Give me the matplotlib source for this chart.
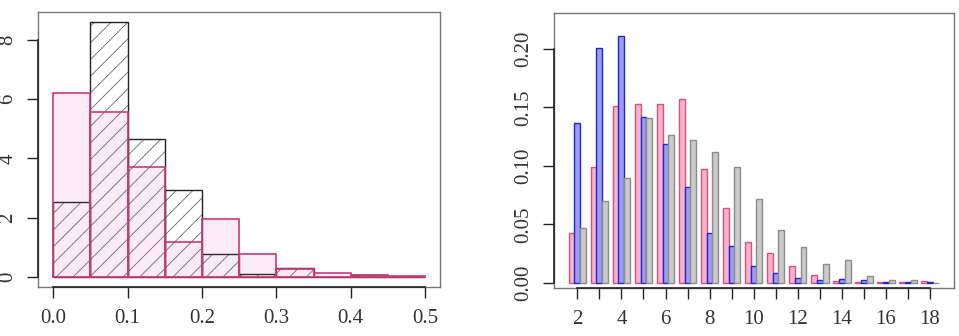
import matplotlib.pyplot as plt
import numpy as np

# left panel: two density histograms on the same bins
bin_edges = np.arange(0, 0.55, 0.05)
dens_black = [2.54, 8.59, 4.67, 2.93, 0.77, 0.11, 0.30, 0.0, 0.07, 0.0]
dens_pink = [6.22, 5.57, 3.72, 1.18, 1.96, 0.78, 0.27, 0.13, 0.05, 0.03]
left_xticks = [0.0, 0.1, 0.2, 0.3, 0.4, 0.5]
left_yticks = [0, 2, 4, 6, 8]

# right panel: grouped bars, three series per count
counts = np.arange(2, 19)
p_pink = [0.0428, 0.0993, 0.151, 0.153, 0.153, 0.157, 0.097, 0.0642, 0.0351,
          0.0251, 0.0143, 0.0063, 0.0014, 0.0003, 0.0003, 0.0003, 0.0011]
p_blue = [0.137, 0.201, 0.211, 0.142, 0.119, 0.0816, 0.0428, 0.0314, 0.0146,
          0.008, 0.0043, 0.0023, 0.0031, 0.0023, 0.0003, 0.0003, 0.0003]
p_grey = [0.0465, 0.070, 0.0893, 0.141, 0.126, 0.122, 0.112, 0.0993, 0.0719,
          0.0451, 0.0308, 0.0157, 0.0194, 0.006, 0.0023, 0.0023, 0.0]
right_xticks = list(range(2, 19, 2))
right_yticks = [0.00, 0.05, 0.10, 0.15, 0.20]

plt.rcParams['font.family'] = ['Liberation Serif', 'DejaVu Serif']
plt.rcParams['hatch.linewidth'] = 0.6

fig = plt.figure(figsize=(9.59, 3.36), dpi=100)
ax1 = fig.add_axes([0.0399, 0.1458, 0.4189, 0.8185])
ax2 = fig.add_axes([0.5777, 0.1429, 0.4171, 0.8175])

lab_col = '#333333'


def r_style(ax, xticks, yticks, xlabels, ylabels, xspan, yspan):
    for s in ax.spines.values():
        s.set_color('#777777')
        s.set_linewidth(1.0)
    ax.set_xticks(xticks)
    ax.set_xticklabels(xlabels, fontsize=15, color=lab_col)
    ax.set_yticks(yticks)
    ax.set_yticklabels(ylabels, fontsize=15, color=lab_col, rotation=90, va='center')
    ax.tick_params(axis='x', length=8, width=1.0, pad=8, color='#222222')
    ax.tick_params(axis='y', length=8, width=1.0, pad=7, color='#222222')
    # darker axis lines over the tick span, like R's axis()
    ax.plot(xspan, [0, 0], transform=ax.get_xaxis_transform(), color='#222222',
            lw=1.2, clip_on=False, zorder=5)
    ax.plot([0, 0], yspan, transform=ax.get_yaxis_transform(), color='#222222',
            lw=1.2, clip_on=False, zorder=5)


# ---- left histogram ----
lefts = bin_edges[:-1]
w = 0.05
ax1.bar(lefts, dens_black, width=w, align='edge', facecolor='none',
        edgecolor='#6a6a6a', hatch='//', linewidth=0, zorder=2)
ax1.bar(lefts, dens_black, width=w, align='edge', facecolor='none',
        edgecolor='#222222', linewidth=1.0, zorder=3)
ax1.bar(lefts, dens_pink, width=w, align='edge', facecolor=(0.88, 0.25, 0.55, 0.1),
        edgecolor='#cc3a78', linewidth=1.2, zorder=4)
ax1.set_xlim(-0.02, 0.52)
ax1.set_ylim(-0.344, 8.944)
r_style(ax1, left_xticks, left_yticks,
        [f"{v:.1f}" for v in left_xticks], [str(v) for v in left_yticks],
        [0.0, 0.5], [0, 8])

# ---- right grouped bars ----
bw = 0.27
off = 0.26
ax2.bar(counts - off, p_pink, width=bw, facecolor='#f6b3cc', edgecolor='#e0507f',
        linewidth=1.0, zorder=2)
ax2.bar(counts, p_blue, width=bw, facecolor='#9d9def', edgecolor='#2323d8',
        linewidth=1.0, zorder=3)
ax2.bar(counts + off, p_grey, width=bw, facecolor='#cacaca', edgecolor='#8c8c8c',
        linewidth=1.0, zorder=4)
ax2.set_xlim(0.94, 19.09)
ax2.set_ylim(-0.0045, 0.2305)
ax2.set_xticks(counts, minor=True)
ax2.tick_params(axis='x', which='minor', length=8, width=1.0, color='#222222')
r_style(ax2, right_xticks, right_yticks,
        [str(v) for v in right_xticks], [f"{v:.2f}" for v in right_yticks],
        [2, 18], [0.0, 0.2])

fig.savefig('out.png', dpi=100)
